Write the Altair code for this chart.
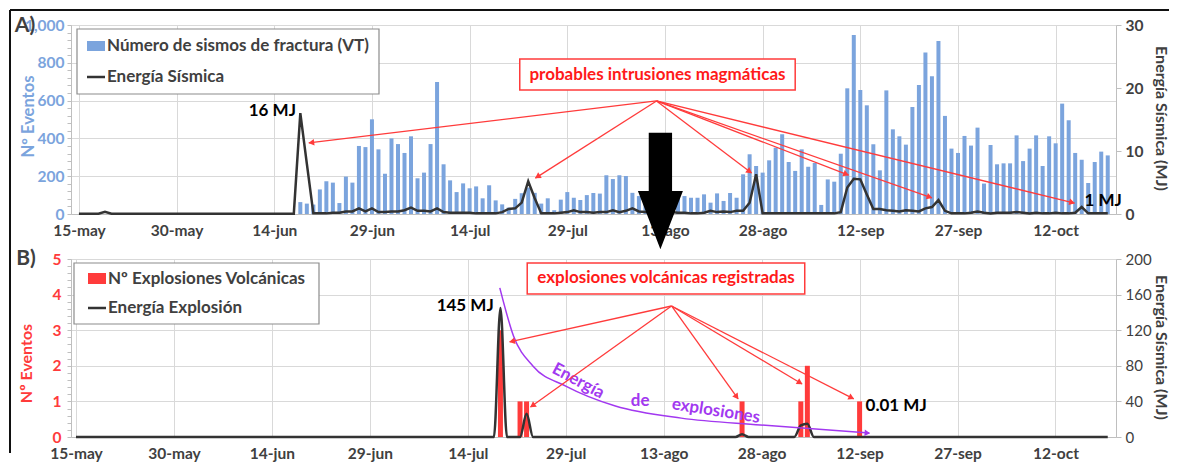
import math
import altair as alt
import pandas as pd

FONT = "Lato"
BLUE = "#7ba4dd"
RED = "#ff3b3b"
TXTRED = "#ff1a1a"
DARK = "#333333"
GREY_TXT = "#404040"
PURPLE = "#a238f0"

# ---------------- data ----------------
TICK_DAYS = [0, 15, 30, 45, 60, 75, 90, 105, 120, 135, 150]
TICK_LABELS = ["15-may", "30-may", "14-jun", "29-jun", "14-jul", "29-jul",
               "13-ago", "28-ago", "12-sep", "27-sep", "12-oct"]

# Panel A: daily VT counts (day 0 = 15-may)
VT_DAYS = list(range(34, 159))
VT_COUNTS = [63, 55, 50, 130, 173, 166, 58, 198, 166, 360,
             354, 501, 342, 213, 400, 370, 323, 411, 189, 219,
             370, 698, 263, 178, 116, 162, 136, 146, 83, 152,
             72, 51, 34, 80, 110, 140, 112, 55, 83, 20,
             76, 116, 86, 74, 100, 111, 108, 205, 185, 205,
             201, 112, 95, 90, 100, 85, 95, 90, 80, 95,
             86, 86, 104, 60, 109, 69, 111, 86, 210, 316,
             254, 219, 284, 351, 422, 275, 228, 342, 250, 270,
             48, 183, 171, 319, 665, 947, 656, 575, 369, 231,
             654, 448, 411, 367, 566, 683, 854, 729, 915, 519,
             346, 323, 413, 362, 457, 161, 365, 263, 268, 268,
             416, 280, 346, 416, 254, 411, 374, 584, 496, 323,
             287, 164, 275, 330, 310]

# Panel A: seismic energy (MJ)
SE_DAYS = [0, 3, 4, 5, 32] + list(range(33, 159))
SE_MJ = [0.05, 0.05, 0.35, 0.05, 0.05,
         0.05, 16, 8, 0.1, 0.1, 0.1, 0.2, 0.2, 0.4, 0.4,
         0.9, 0.4, 0.9, 0.3, 0.3, 0.4, 0.4, 0.6, 1.0, 0.5,
         0.5, 0.4, 0.9, 0.3, 0.2, 0.2, 0.2, 0.2, 0.1, 0.1,
         0.1, 0.1, 0.3, 0.8, 0.9, 1.8, 5.2, 2.5, 0.1, 0.1,
         0.1, 0.2, 0.3, 0.6, 0.3, 0.3, 0.2, 0.3, 0.3, 0.6,
         0.3, 0.5, 0.9, 0.4, 0.3, 0.3, 0.5, 0.4, 0.3, 0.2,
         0.2, 0.1, 0.1, 0.2, 0.5, 0.3, 0.4, 0.3, 0.5, 0.5,
         1.8, 6.3, 0.1, 0.1, 0.1, 0.1, 0.1, 0.1, 0.1, 0.1,
         0.1, 0.1, 0.1, 0.1, 0.3, 4.2, 5.6, 5.5, 3.1, 0.8,
         0.8, 0.6, 0.5, 0.4, 0.6, 0.5, 0.4, 0.9, 1.1, 2.2,
         0.5, 0.1, 0.1, 0.1, 0.2, 0.4, 0.2, 0.1, 0.2, 0.2,
         0.2, 0.3, 0.2, 0.1, 0.2, 0.1, 0.1, 0.2, 0.1, 0.1,
         0.2, 1.1, 0.1, 0.1, 0.1, 0.1]

# Panel B: volcanic explosions
EX_DAYS = [65, 68, 69, 102, 111, 112, 120]
EX_COUNTS = [3, 1, 1, 1, 1, 2, 1]

# Panel B: explosion energy (MJ)
EE_DAYS = [0, 64, 65, 66, 68, 69, 70, 101, 102, 103, 110, 111, 112, 113, 158]
EE_MJ = [0, 0, 145, 0, 0, 26, 0, 0, 3, 0, 0, 13, 15, 0, 0]

# ---------------- annotations (data coordinates) ----------------
TOP_BOX = [67.7, 110.0, 820, 656]           # d1, d2, v1, v2
TOP_BOX_TEXT = "probables intrusiones magmáticas"
TOP_ARROW_FROM = (88.7, 598)
TOP_ARROW_D = [35.3, 70.1, 103.3, 118.2, 131.0, 152.9]
TOP_ARROW_V = [376, 190, 217, 206, 85, 58]
TOP_BIG_ARROW = (89.3, 122)
TOP_LABELS_TXT = ["16 MJ", "1 MJ"]
TOP_LABELS_D = [29.7, 157.3]
TOP_LABELS_V = [545, 69]

BOT_BOX = [69.1, 111.6, 4.89, 4.02]
BOT_BOX_TEXT = "explosiones volcánicas registradas"
BOT_ARROW_FROM = (91.2, 3.68)
BOT_ARROW_D = [66.4, 69.6, 101.4, 111.2, 119.1]
BOT_ARROW_V = [2.67, 0.84, 1.07, 1.49, 1.07]
BOT_LABELS_TXT = ["145 MJ", "0.01 MJ"]
BOT_LABELS_D = [59.6, 125.6]
BOT_LABELS_V = [3.68, 0.87]
PURPLE_D = [64.9, 67.0, 70.0, 75.0, 82.6, 92.7, 104.8, 121.5]
PURPLE_V = [4.19, 2.84, 1.99, 1.43, 0.87, 0.53, 0.34, 0.11]
PURPLE_TXT = ["Energía", "de", "explosiones"]
PURPLE_TXT_D = [76.9, 86.4, 98.0]
PURPLE_TXT_V = [1.57, 1.01, 0.73]
PURPLE_TXT_ANG = [28, 0, 9]

# ---------------- layout ----------------
W_TOP = 1045
W_BOT = 1045
H_TOP = 189
H_BOT = 178
TOP_XDOM = [-0.45, 158.5]
BOT_XDOM = [0, 158.5]

label_expr = "[" + ",".join("'%s'" % t for t in TICK_LABELS) + "][round(datum.value / 15)]"


def x_enc(field, dom):
    return alt.X(field + ":Q",
                 scale=alt.Scale(domain=dom, nice=False, zero=False),
                 axis=alt.Axis(values=TICK_DAYS, labelExpr=label_expr, title=None,
                               grid=True, gridColor="#d9d9d9", ticks=False,
                               domainColor="#bfbfbf", labelColor=GREY_TXT,
                               labelFont=FONT, labelFontSize=15.5, labelFontWeight="bold",
                               labelPadding=9, labelOverlap=False))


def to_px(d, v, dom, w, h, vmax):
    return ((d - dom[0]) * w / (dom[1] - dom[0]), h * (1 - v / vmax))


def to_data(px, py, dom, w, h, vmax):
    return (px * (dom[1] - dom[0]) / w + dom[0], (1 - py / h) * vmax)


def arrows(origin, tds, tvs, dom, w, h, vmax, back=3.5):
    rules, heads = [], []
    ox, oy = to_px(origin[0], origin[1], dom, w, h, vmax)
    for d, v in zip(tds, tvs):
        tx, ty = to_px(d, v, dom, w, h, vmax)
        dx, dy = tx - ox, ty - oy
        L = math.hypot(dx, dy)
        ux, uy = dx / L, dy / L
        cx, cy = tx - ux * back, ty - uy * back
        cd, cv = to_data(cx, cy, dom, w, h, vmax)
        ang = math.degrees(math.atan2(dx, -dy)) % 360
        rules.append({"d": origin[0], "v": origin[1], "d2": d, "v2": v})
        heads.append({"d": cd, "v": cv, "ang": ang})
    return pd.DataFrame(rules), pd.DataFrame(heads)


one = alt.Data(values=[{"k": 1}])

# ================= PANEL A =================
TOP_LEFT_AXIS = alt.Axis(
    values=list(range(0, 1001, 40)),
    labelExpr="datum.value % 200 === 0 ? datum.label : ''",
    title="Nº Eventos", titleColor=BLUE, labelColor=BLUE,
    grid=True, gridColor="#d9d9d9",
    gridOpacity={"condition": {"test": "datum.value % 200 === 0", "value": 1}, "value": 0},
    tickColor="#bfbfbf", tickSize=4, domainColor="#bfbfbf",
    labelFont=FONT, labelFontSize=15.5, labelFontWeight="bold", labelPadding=3,
    titleFont=FONT, titleFontSize=16.5, titleFontWeight="bold",
    titleX=-43, titleY=91, titleAlign="center", titleBaseline="middle",
    labelOverlap=False)


def ytop(field, axis=True):
    return alt.Y(field + ":Q", scale=alt.Scale(domain=[0, 1000], nice=False),
                 axis=TOP_LEFT_AXIS if axis else None)


vt_df = pd.DataFrame({"d": VT_DAYS, "n": VT_COUNTS})
se_df = pd.DataFrame({"d": SE_DAYS, "mj": SE_MJ})

top_bars = alt.Chart(vt_df).mark_bar(color=BLUE, size=4).encode(
    x=x_enc("d", TOP_XDOM), y=ytop("n"))

top_line = alt.Chart(se_df).mark_line(color=DARK, strokeWidth=2.5).encode(
    x=x_enc("d", TOP_XDOM),
    y=alt.Y("mj:Q", scale=alt.Scale(domain=[0, 30], nice=False),
            axis=alt.Axis(values=[0, 10, 20, 30], orient="right",
                          title="Energía Sísmica (MJ)", grid=False,
                          tickColor="#bfbfbf", tickSize=5, domainColor="#bfbfbf",
                          labelColor=GREY_TXT, labelFont=FONT, labelFontSize=15.5,
                          labelFontWeight="bold", labelPadding=4,
                          titleColor=GREY_TXT, titleFont=FONT, titleFontSize=16,
                          titleFontWeight="bold", titleX=44, titleY=93,
                          titleAngle=90, titleAlign="center", titleBaseline="middle")))

t_rules, t_heads = arrows(TOP_ARROW_FROM, TOP_ARROW_D, TOP_ARROW_V, TOP_XDOM, W_TOP, H_TOP, 1000)

top_rules = alt.Chart(t_rules).mark_rule(color=RED, strokeWidth=1.3).encode(
    x=x_enc("d", TOP_XDOM), y=ytop("v", False), x2="d2", y2="v2")
top_heads = alt.Chart(t_heads).mark_point(shape="triangle", filled=True, color=RED,
                                          size=45, opacity=1).encode(
    x=x_enc("d", TOP_XDOM), y=ytop("v", False), angle=alt.Angle("ang:Q", scale=None))

top_box_df = pd.DataFrame([{"d": TOP_BOX[0], "d2": TOP_BOX[1], "v": TOP_BOX[2], "v2": TOP_BOX[3],
                            "dc": (TOP_BOX[0] + TOP_BOX[1]) / 2, "vc": (TOP_BOX[2] + TOP_BOX[3]) / 2,
                            "t": TOP_BOX_TEXT}])
top_box = alt.Chart(top_box_df).mark_rect(fill="white", stroke=RED, strokeWidth=1.5).encode(
    x=x_enc("d", TOP_XDOM), x2="d2", y=ytop("v", False), y2="v2")
top_box_txt = alt.Chart(top_box_df).mark_text(color=TXTRED, font=FONT, fontSize=17,
                                              fontWeight="bold").encode(
    x=x_enc("dc", TOP_XDOM), y=ytop("vc", False), text="t:N")

big_df = pd.DataFrame([{"d": TOP_BIG_ARROW[0], "v": TOP_BIG_ARROW[1]}])
BIG_PATH = "M-0.2,-1L0.2,-1L0.2,0L0.386,0L0,1L-0.386,0L-0.2,0Z"
top_big = alt.Chart(big_df).mark_point(shape=BIG_PATH, size=13596, filled=True,
                                       color="black", opacity=1, strokeWidth=0).encode(
    x=x_enc("d", TOP_XDOM), y=ytop("v", False))

top_lab_df = pd.DataFrame({"d": TOP_LABELS_D, "v": TOP_LABELS_V, "t": TOP_LABELS_TXT})
top_labs = alt.Chart(top_lab_df).mark_text(color="black", font=FONT, fontSize=17,
                                           fontWeight="bold").encode(
    x=x_enc("d", TOP_XDOM), y=ytop("v", False), text="t:N")

# legend A (pixel placed)
legA_box = alt.Chart(one).mark_rect(fill="white", stroke="#8c8c8c", strokeWidth=1.2).encode(
    x=alt.value(6), x2=alt.value(308), y=alt.value(4), y2=alt.value(69))
legA_sw = alt.Chart(one).mark_rect(color=BLUE).encode(
    x=alt.value(16), x2=alt.value(34), y=alt.value(16), y2=alt.value(26))
legA_ln = alt.Chart(one).mark_rule(color=DARK, strokeWidth=2.5).encode(
    x=alt.value(16), x2=alt.value(34), y=alt.value(52))
legA_t1 = alt.Chart(one).mark_text(align="left", baseline="middle", font=FONT, fontSize=17,
                                   fontWeight="bold", color=GREY_TXT).encode(
    x=alt.value(36), y=alt.value(21), text=alt.value("Número de sismos de fractura (VT)"))
legA_t2 = alt.Chart(one).mark_text(align="left", baseline="middle", font=FONT, fontSize=17,
                                   fontWeight="bold", color=GREY_TXT).encode(
    x=alt.value(36), y=alt.value(52), text=alt.value("Energía Sísmica"))
labA = alt.Chart(one).mark_text(align="center", baseline="middle", font=FONT, fontSize=21,
                                fontWeight="bold", color=GREY_TXT).encode(
    x=alt.value(-46), y=alt.value(1), text=alt.value("A)"))
frame_top = alt.Chart(one).mark_rule(color="#111111", strokeWidth=2).encode(
    x=alt.value(-61), x2=alt.value(1098), y=alt.value(-15))
frame_left = alt.Chart(one).mark_rule(color="#111111", strokeWidth=2).encode(
    x=alt.value(-61), y=alt.value(-15), y2=alt.value(428))

top_annot = alt.layer(top_box, top_box_txt, top_rules, top_heads, top_big, top_labs,
                      legA_box, legA_sw, legA_ln, legA_t1, legA_t2, labA,
                      frame_top, frame_left)

top = alt.layer(top_bars, top_line, top_annot).resolve_scale(y="independent").properties(
    width=W_TOP, height=H_TOP)

# ================= PANEL B =================
BOT_TICKS = [round(0.2 * k, 1) for k in range(26)]
INT_TEST = "abs(datum.value - round(datum.value)) < 0.001"
BOT_LEFT_AXIS = alt.Axis(
    values=BOT_TICKS, labelExpr=INT_TEST + " ? format(datum.value, 'd') : ''",
    title="Nº Eventos", titleColor=RED, labelColor=RED,
    grid=True, gridColor="#d9d9d9",
    gridOpacity={"condition": {"test": INT_TEST, "value": 1}, "value": 0},
    tickColor="#bfbfbf", tickSize=4, domainColor="#bfbfbf",
    labelFont=FONT, labelFontSize=15.5, labelFontWeight="bold", labelPadding=6,
    titleFont=FONT, titleFontSize=16, titleFontWeight="bold",
    titleX=-45, titleY=104, titleAlign="center", titleBaseline="middle",
    labelOverlap=False)


def ybot(field, axis=True):
    return alt.Y(field + ":Q", scale=alt.Scale(domain=[0, 5], nice=False),
                 axis=BOT_LEFT_AXIS if axis else None)


ex_df = pd.DataFrame({"d": EX_DAYS, "n": EX_COUNTS})
ee_df = pd.DataFrame({"d": EE_DAYS, "mj": EE_MJ})

bot_bars = alt.Chart(ex_df).mark_bar(color=RED, size=5).encode(
    x=x_enc("d", BOT_XDOM), y=ybot("n"))

bot_line = alt.Chart(ee_df).mark_line(color=DARK, strokeWidth=2.5, interpolate="monotone").encode(
    x=x_enc("d", BOT_XDOM),
    y=alt.Y("mj:Q", scale=alt.Scale(domain=[0, 200], nice=False),
            axis=alt.Axis(values=[0, 40, 80, 120, 160, 200], orient="right",
                          title="Energía Sísmica (MJ)", grid=False,
                          tickColor="#bfbfbf", tickSize=5, domainColor="#bfbfbf",
                          labelColor=GREY_TXT, labelFont=FONT, labelFontSize=15,
                          labelFontWeight="normal", labelPadding=4,
                          titleColor=GREY_TXT, titleFont=FONT, titleFontSize=16,
                          titleFontWeight="bold", titleX=44, titleY=88,
                          titleAngle=90, titleAlign="center", titleBaseline="middle")))

b_rules, b_heads = arrows(BOT_ARROW_FROM, BOT_ARROW_D, BOT_ARROW_V, BOT_XDOM, W_BOT, H_BOT, 5)
bot_rules = alt.Chart(b_rules).mark_rule(color=RED, strokeWidth=1.3).encode(
    x=x_enc("d", BOT_XDOM), y=ybot("v", False), x2="d2", y2="v2")
bot_heads = alt.Chart(b_heads).mark_point(shape="triangle", filled=True, color=RED,
                                          size=45, opacity=1).encode(
    x=x_enc("d", BOT_XDOM), y=ybot("v", False), angle=alt.Angle("ang:Q", scale=None))

bot_box_df = pd.DataFrame([{"d": BOT_BOX[0], "d2": BOT_BOX[1], "v": BOT_BOX[2], "v2": BOT_BOX[3],
                            "dc": (BOT_BOX[0] + BOT_BOX[1]) / 2, "vc": (BOT_BOX[2] + BOT_BOX[3]) / 2,
                            "t": BOT_BOX_TEXT}])
bot_box = alt.Chart(bot_box_df).mark_rect(fill="white", stroke=RED, strokeWidth=1.5).encode(
    x=x_enc("d", BOT_XDOM), x2="d2", y=ybot("v", False), y2="v2")
bot_box_txt = alt.Chart(bot_box_df).mark_text(color=TXTRED, font=FONT, fontSize=17,
                                              fontWeight="bold").encode(
    x=x_enc("dc", BOT_XDOM), y=ybot("vc", False), text="t:N")

pur_df = pd.DataFrame({"d": PURPLE_D, "v": PURPLE_V})
pur_line = alt.Chart(pur_df).mark_line(color=PURPLE, strokeWidth=1.5, interpolate="monotone").encode(
    x=x_enc("d", BOT_XDOM), y=ybot("v", False))
p_rules, p_heads = arrows((PURPLE_D[-2], PURPLE_V[-2]), [PURPLE_D[-1]], [PURPLE_V[-1]],
                          BOT_XDOM, W_BOT, H_BOT, 5, back=3)
pur_head = alt.Chart(p_heads).mark_point(shape="triangle", filled=True, color=PURPLE,
                                         size=40, opacity=1).encode(
    x=x_enc("d", BOT_XDOM), y=ybot("v", False), angle=alt.Angle("ang:Q", scale=None))
pur_txt_df = pd.DataFrame({"d": PURPLE_TXT_D, "v": PURPLE_TXT_V, "t": PURPLE_TXT,
                           "a": PURPLE_TXT_ANG})
pur_txt = alt.Chart(pur_txt_df).mark_text(color=PURPLE, font=FONT, fontSize=17,
                                          fontWeight="bold").encode(
    x=x_enc("d", BOT_XDOM), y=ybot("v", False), text="t:N",
    angle=alt.Angle("a:Q", scale=None))

bot_lab_df = pd.DataFrame({"d": BOT_LABELS_D, "v": BOT_LABELS_V, "t": BOT_LABELS_TXT})
bot_labs = alt.Chart(bot_lab_df).mark_text(color="black", font=FONT, fontSize=17,
                                           fontWeight="bold").encode(
    x=x_enc("d", BOT_XDOM), y=ybot("v", False), text="t:N")

legB_box = alt.Chart(one).mark_rect(fill="white", stroke="#8c8c8c", strokeWidth=1.2).encode(
    x=alt.value(3), x2=alt.value(248), y=alt.value(4), y2=alt.value(65))
legB_sw = alt.Chart(one).mark_rect(color=RED).encode(
    x=alt.value(17), x2=alt.value(35), y=alt.value(14), y2=alt.value(25))
legB_ln = alt.Chart(one).mark_rule(color=DARK, strokeWidth=2.5).encode(
    x=alt.value(17), x2=alt.value(35), y=alt.value(49))
legB_t1 = alt.Chart(one).mark_text(align="left", baseline="middle", font=FONT, fontSize=17,
                                   fontWeight="bold", color=GREY_TXT).encode(
    x=alt.value(37), y=alt.value(20), text=alt.value("Nº Explosiones Volcánicas"))
legB_t2 = alt.Chart(one).mark_text(align="left", baseline="middle", font=FONT, fontSize=17,
                                   fontWeight="bold", color=GREY_TXT).encode(
    x=alt.value(37), y=alt.value(49), text=alt.value("Energía Explosión"))
labB = alt.Chart(one).mark_text(align="center", baseline="middle", font=FONT, fontSize=21,
                                fontWeight="bold", color=GREY_TXT).encode(
    x=alt.value(-45), y=alt.value(0), text=alt.value("B)"))

bot_annot = alt.layer(bot_box, bot_box_txt, pur_line, pur_head, pur_txt, bot_rules, bot_heads,
                      bot_labs, legB_box, legB_sw, legB_ln, legB_t1, legB_t2, labB)

bottom = alt.layer(bot_bars, bot_line, bot_annot).resolve_scale(y="independent").properties(
    width=W_BOT, height=H_BOT)

chart = alt.vconcat(top, bottom, spacing=45, bounds="flush").properties(
    padding={"left": 0, "top": 0, "right": 0, "bottom": 0},
    background="white",
).configure_view(stroke=None).configure(font=FONT)

chart.save("out.html", embed_options={"renderer": "svg", "actions": False})
